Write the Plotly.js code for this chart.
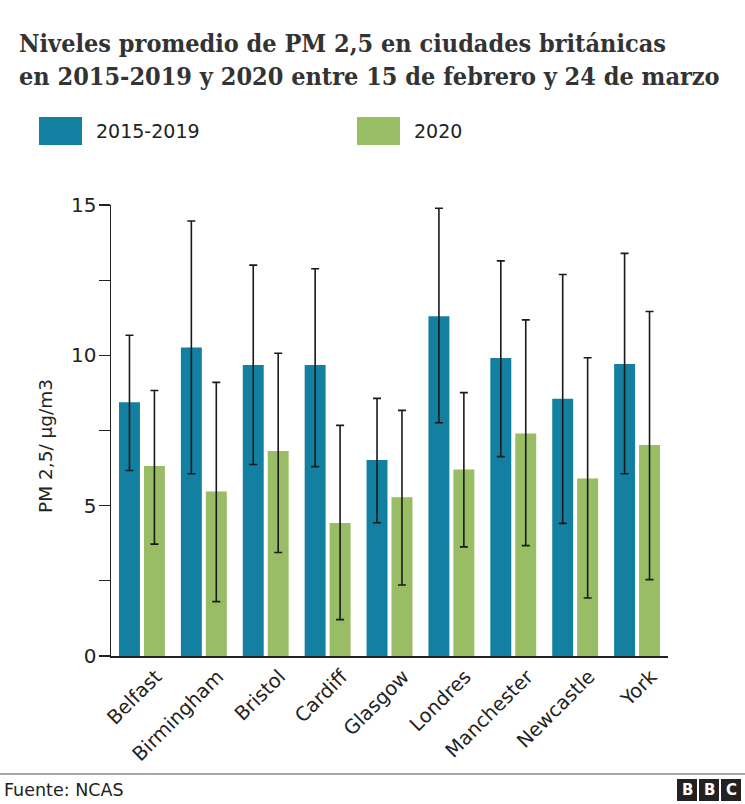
<!DOCTYPE html>
<html>
<head>
<meta charset="utf-8">
<script src="https://cdn.plot.ly/plotly-3.0.1.min.js"></script>
<style>html,body{margin:0;padding:0;background:#fff;}#chart{width:745px;height:804px;}</style>
</head>
<body>
<div id="chart"></div>
<script>
const cities = ["Belfast","Birmingham","Bristol","Cardiff","Glasgow","Londres","Manchester","Newcastle","York"];
const avg1519 = [8.44,10.26,9.68,9.68,6.52,11.30,9.91,8.56,9.71];
const high1519 = [10.67,14.47,13.00,12.88,8.57,14.89,13.14,12.69,13.39];
const low1519 = [6.17,6.06,6.37,6.30,4.43,7.76,6.63,4.41,6.06];
const avg2020 = [6.32,5.47,6.82,4.42,5.28,6.20,7.40,5.90,7.02];
const high2020 = [8.83,9.10,10.07,7.67,8.17,8.76,11.18,9.92,11.46];
const low2020 = [3.72,1.81,3.44,1.21,2.36,3.63,3.67,1.93,2.54];
const yTickVals = [0,2.5,5,7.5,10,12.5,15];
const yTickText = ["0","","5","","10","","15"];
const seriesNames = ["2015-2019","2020"];

const blue = "#1380a1", green = "#98bd64";
const sans = "DejaVu Sans, Verdana, sans-serif";

function errs(avg, hi, lo){
  return {type:"data", symmetric:false,
    array: hi.map((h,i)=>h-avg[i]), arrayminus: avg.map((a,i)=>a-lo[i]),
    color:"#1a1a1a", thickness:1.6, width:4};
}

const traces = [
  {type:"bar", name:seriesNames[0], x:cities, y:avg1519, marker:{color:blue}, error_y:errs(avg1519,high1519,low1519), hoverinfo:"y"},
  {type:"bar", name:seriesNames[1], x:cities, y:avg2020, marker:{color:green}, error_y:errs(avg2020,high2020,low2020), hoverinfo:"y"}
];

const layout = {
  width:745, height:804,
  margin:{l:111, r:77, t:205, b:148},
  paper_bgcolor:"#fff", plot_bgcolor:"#fff",
  barmode:"group", bargap:0.194, bargroupgap:0.16,
  showlegend:false,
  font:{family:sans, color:"#222"},
  title:{text:"<b>Niveles promedio de PM 2,5 en ciudades británicas<br>en 2015-2019 y 2020 entre 15 de febrero y 24 de marzo</b>",
    font:{family:"DejaVu Serif Condensed, DejaVu Serif, serif", size:25, color:"#333"},
    xref:"container", x:19/745, xanchor:"left", yref:"container", y:1-52/804, yanchor:"top"},
  xaxis:{showgrid:false, zeroline:false, showline:true, linecolor:"#222", linewidth:1.5,
    ticks:"", tickangle:-45, ticklabelshift:14, tickfont:{family:sans, size:19.5, color:"#222"}},
  yaxis:{range:[0,15], showgrid:false, zeroline:false, showline:true, linecolor:"#222", linewidth:1.5,
    tickmode:"array", tickvals:yTickVals, ticktext:yTickText, ticks:"outside", ticklen:11, tickwidth:1.2, tickcolor:"#222",
    ticklabelstandoff:-2,
    tickfont:{family:sans, size:20, color:"#222"}},
  shapes:[
    {type:"rect", xref:"paper", yref:"paper", x0:-72/557, x1:-29/557, y0:(656-145)/451, y1:(656-117)/451, fillcolor:blue, line:{width:0}},
    {type:"rect", xref:"paper", yref:"paper", x0:246/557, x1:289/557, y0:(656-145)/451, y1:(656-117)/451, fillcolor:green, line:{width:0}},
    {type:"line", xref:"paper", yref:"paper", x0:-111/557, x1:634/557, y0:(656-774)/451, y1:(656-774)/451, line:{color:"#888", width:1.5}},
    {type:"rect", xref:"paper", yref:"paper", x0:566/557, x1:586/557, y0:(656-801)/451, y1:(656-779)/451, fillcolor:"#222", line:{width:0}},
    {type:"rect", xref:"paper", yref:"paper", x0:588/557, x1:608/557, y0:(656-801)/451, y1:(656-779)/451, fillcolor:"#222", line:{width:0}},
    {type:"rect", xref:"paper", yref:"paper", x0:610/557, x1:630/557, y0:(656-801)/451, y1:(656-779)/451, fillcolor:"#222", line:{width:0}}
  ],
  annotations:[
    {xref:"paper", yref:"paper", x:-66/557, y:(656-446)/451, xanchor:"center", yanchor:"middle", textangle:-90, showarrow:false, text:"PM 2,5/ µg/m3", font:{family:sans, size:18.5, color:"#222"}},
    {xref:"paper", yref:"paper", x:-17/557, y:(656-131)/451, xanchor:"left", yanchor:"middle", showarrow:false, text:seriesNames[0], font:{family:sans, size:19, color:"#222"}},
    {xref:"paper", yref:"paper", x:301/557, y:(656-131)/451, xanchor:"left", yanchor:"middle", showarrow:false, text:seriesNames[1], font:{family:sans, size:19, color:"#222"}},
    {xref:"paper", yref:"paper", x:-109/557, y:(656-790)/451, xanchor:"left", yanchor:"middle", showarrow:false, text:"Fuente: NCAS", font:{family:sans, size:17.5, color:"#222"}},
    {xref:"paper", yref:"paper", x:576/557, y:(656-790)/451, xanchor:"center", yanchor:"middle", showarrow:false, text:"<b>B</b>", font:{family:"DejaVu Sans, sans-serif", size:15, color:"#fff"}},
    {xref:"paper", yref:"paper", x:598/557, y:(656-790)/451, xanchor:"center", yanchor:"middle", showarrow:false, text:"<b>B</b>", font:{family:"DejaVu Sans, sans-serif", size:15, color:"#fff"}},
    {xref:"paper", yref:"paper", x:620/557, y:(656-790)/451, xanchor:"center", yanchor:"middle", showarrow:false, text:"<b>C</b>", font:{family:"DejaVu Sans, sans-serif", size:15, color:"#fff"}}
  ]
};

Plotly.newPlot("chart", traces, layout, {displayModeBar:false, staticPlot:true});
</script>
</body>
</html>
